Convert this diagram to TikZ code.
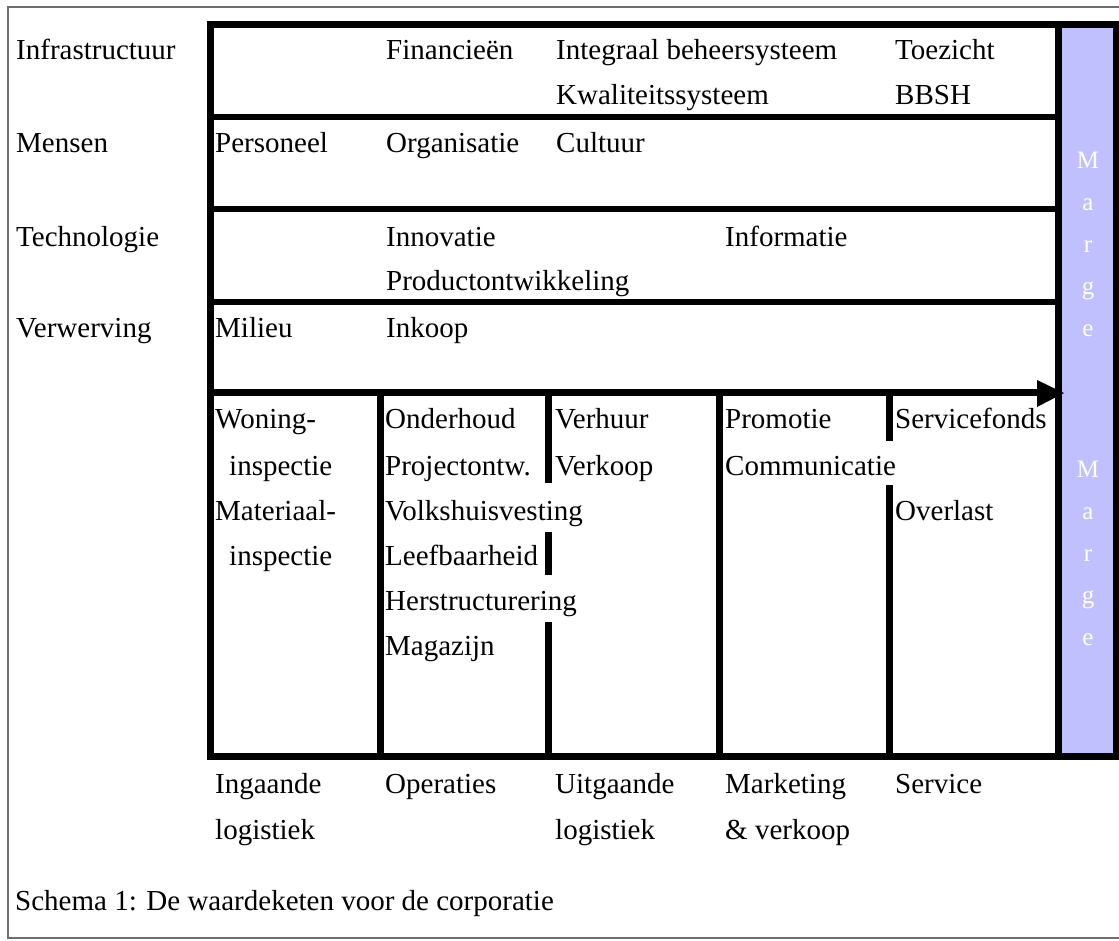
\documentclass[tikz,border=0pt]{standalone}
\usepackage{fontspec}
\setmainfont{Liberation Serif}
\definecolor{margeblue}{RGB}{192,192,255}
\definecolor{thingray}{RGB}{110,110,110}
\begin{document}
\begin{tikzpicture}[x=1pt,y=-1pt,
  txt/.style={anchor=base west,inner sep=0pt,font=\fontsize{29}{35}\selectfont},
  mletter/.style={anchor=base,inner sep=0pt,text=white,font=\fontsize{25}{30}\selectfont},
  frame/.style={line width=7pt},
  sep/.style={line width=6.5pt},
  divider/.style={line width=7pt}]
\useasboundingbox (0,0) rectangle (1119,940);
% outer thin border
\draw[thingray,line width=1.6pt] (1119,7) -- (8,7) -- (8,938) -- (1119,938);
% margin column
\fill[margeblue] (1058,24) rectangle (1116,756);
% frame
\coordinate (tl) at (210,24);
\coordinate (br) at (1116,756);
\draw[frame] (tl) rectangle (br);
\draw[frame] (1058,24) -- (1058,756);
% row separators
\draw[sep] (210,117) -- (1058,117);
\draw[sep] (210,209) -- (1058,209);
\draw[sep] (210,302) -- (1058,302);
% arrow
\coordinate (arrS) at (210,392.5);
\coordinate (arrE) at (1040,392.5);
\draw[sep] (arrS) -- (arrE);
\fill (1037,380) -- (1064,393) -- (1037,407) -- cycle;
% column dividers
\draw[divider] (380,392) -- (380,756);
\draw[divider] (719,392) -- (719,756);
\draw[divider] (548,392) -- (548,483);
\draw[divider] (548,532) -- (548,575);
\draw[divider] (548,622) -- (548,756);
\draw[divider] (889,392) -- (889,441);
\draw[divider] (889,485) -- (889,756);
% row labels and texts
\node[txt] (infra) at (16,59) {Infrastructuur};
\node[txt] (fin) at (386,59) {Financieën};
\node[txt] (ibs) at (556,59) {Integraal beheersysteem};
\node[txt] (toez) at (895,59) {Toezicht};
\node[txt] (kwal) at (556,104) {Kwaliteitssysteem};
\node[txt] (bbsh) at (895,104) {BBSH};
\node[txt] (mens) at (16,152) {Mensen};
\node[txt] (pers) at (215,152) {Personeel};
\node[txt] (org) at (386,152) {Organisatie};
\node[txt] (cult) at (556,152) {Cultuur};
\node[txt] (tech) at (16,246) {Technologie};
\node[txt] (innov) at (386,246) {Innovatie};
\node[txt] (inform) at (725,246) {Informatie};
\node[txt] (prod) at (386,290) {Productontwikkeling};
\node[txt] (verw) at (16,337) {Verwerving};
\node[txt] (mil) at (215,337) {Milieu};
\node[txt] (ink) at (386,337) {Inkoop};
% primary activities
\node[txt] (won) at (215,428) {Woning-};
\node[txt] (insp1) at (229,475) {inspectie};
\node[txt] (mat) at (215,520) {Materiaal-};
\node[txt] (insp2) at (229,565) {inspectie};
\node[txt] (ond) at (385,428) {Onderhoud};
\node[txt] (proj) at (385,475) {Projectontw.};
\node[txt] (volk) at (385,520) {Volkshuisvesting};
\node[txt] (leef) at (385,565) {Leefbaarheid};
\node[txt] (herst) at (385,610) {Herstructurering};
\node[txt] (mag) at (385,655) {Magazijn};
\node[txt] (verh) at (555,428) {Verhuur};
\node[txt] (verk) at (555,475) {Verkoop};
\node[txt] (prom) at (725,428) {Promotie};
\node[txt] (comm) at (725,475) {Communicatie};
\node[txt] (servf) at (895,428) {Servicefonds};
\node[txt] (overl) at (895,520) {Overlast};
% column labels
\node[txt] (ing1) at (215,793) {Ingaande};
\node[txt] (ing2) at (215,839) {logistiek};
\node[txt] (oper) at (385,793) {Operaties};
\node[txt] (uit1) at (555,793) {Uitgaande};
\node[txt] (uit2) at (555,839) {logistiek};
\node[txt] (mark1) at (725,793) {Marketing};
\node[txt] (mark2) at (725,839) {\& verkoop};
\node[txt] (serv) at (895,793) {Service};
% caption
\node[txt] (capt) at (15,910) {Schema 1: De waardeketen voor de corporatie};
% marge letters
\node[mletter] (m1) at (1088,168) {M};
\node[mletter] (a1) at (1088,210) {a};
\node[mletter] (r1) at (1088,252) {r};
\node[mletter] (g1) at (1088,294) {g};
\node[mletter] (e1) at (1088,336) {e};
\node[mletter] (m2) at (1088,477) {M};
\node[mletter] (a2) at (1088,519) {a};
\node[mletter] (r2) at (1088,561) {r};
\node[mletter] (g2) at (1088,603) {g};
\node[mletter] (e2) at (1088,645) {e};
\end{tikzpicture}
\end{document}
